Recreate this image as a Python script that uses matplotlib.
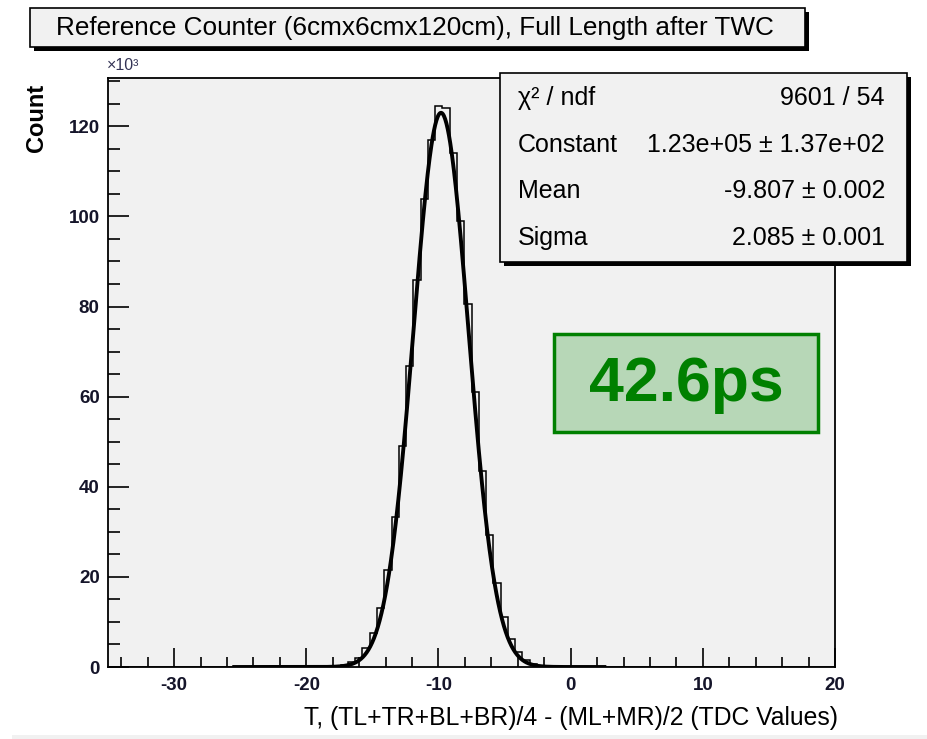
import numpy as np
import matplotlib
matplotlib.use("Agg")
import matplotlib.pyplot as plt
from matplotlib.patches import Rectangle
from matplotlib.ticker import MultipleLocator

plt.rcParams["axes.unicode_minus"] = False

# Histogram binning (100 bins over the TDC window)
bin_lo, bin_hi, n_bins = -35.0, 20.0, 100

# Bin contents (x10^3 counts) for the populated bins, starting at bin index 28
first_bin = 28
counts_k = [0.02, 0.04, 0.08, 0.2, 0.45, 1.0, 2.1, 4.2, 7.5, 13.2,
            21.6, 33.4, 49.0, 66.8, 85.8, 103.9, 117.0, 124.5, 124.1, 114.0,
            99.0, 80.5, 61.0, 43.5, 29.3, 18.6, 11.2, 6.3, 3.3, 1.6,
            0.7, 0.32, 0.15, 0.07, 0.03]

# Gaussian fit results
fit_const = 1.23e5
fit_mean = -9.807
fit_sigma = 2.085
fit_range = (-25.6, 2.7)

stat_labels = ["χ² / ndf", "Constant", "Mean", "Sigma"]
stat_values = ["9601 / 54", "1.23e+05 ± 1.37e+02",
               "-9.807 ± 0.002", "2.085 ± 0.001"]

title = "Reference Counter (6cmx6cmx120cm), Full Length after TWC"
xlabel = "T, (TL+TR+BL+BR)/4 - (ML+MR)/2 (TDC Values)"
ylabel = "Count"
resolution = "42.6ps"

W, H = 927, 739
BG = "#f1f1f1"
SANS = ["Liberation Sans", "DejaVu Sans"]


def fx(x):
    return x / W


def fy(y):
    return 1.0 - y / H


fig = plt.figure(figsize=(W / 100, H / 100), dpi=100, facecolor="white")
# grey canvas with a thin white margin on the left and bottom
fig.add_artist(Rectangle((fx(12), 0.0), 1.0, fy(735), transform=fig.transFigure,
                         facecolor=BG, edgecolor="none", zorder=0))

ax = fig.add_axes([fx(108), fy(667), fx(835) - fx(108), fy(78) - fy(667)])
ax.set_facecolor(BG)

edges = np.linspace(bin_lo, bin_hi, n_bins + 1)
counts = np.zeros(n_bins)
counts[first_bin:first_bin + len(counts_k)] = counts_k
ax.stairs(counts, edges, color="black", lw=1.1, baseline=0)

xf = np.linspace(fit_range[0], fit_range[1], 600)
yf = fit_const * np.exp(-0.5 * ((xf - fit_mean) / fit_sigma) ** 2) / 1e3
ax.plot(xf, yf, color="black", lw=2.8, solid_capstyle="butt")

ax.set_xlim(bin_lo, bin_hi)
ax.set_ylim(0, 1.05 * max(counts_k))

for s in ax.spines.values():
    s.set_linewidth(1.3)

ax.xaxis.set_major_locator(MultipleLocator(10))
ax.xaxis.set_minor_locator(MultipleLocator(2))
ax.yaxis.set_major_locator(MultipleLocator(20))
ax.yaxis.set_minor_locator(MultipleLocator(5))
ax.tick_params(axis="x", which="major", direction="in", length=13.5, width=1.2, pad=7)
ax.tick_params(axis="x", which="minor", direction="in", length=7, width=1.2)
ax.tick_params(axis="y", which="major", direction="in", length=15, width=1.2, pad=6)
ax.tick_params(axis="y", which="minor", direction="in", length=8.5, width=1.2)
for lab in ax.get_xticklabels() + ax.get_yticklabels():
    lab.set_fontfamily(SANS)
    lab.set_fontweight("bold")
    lab.set_fontsize(13.5)
    lab.set_color("#15152a")

fig.text(fx(107), fy(73), "×10³", fontsize=11.5, color="#333355",
         ha="left", va="bottom", family=SANS)

fig.text(fx(36), fy(118), ylabel, rotation=90, fontsize=17, fontweight="bold",
         family=SANS, ha="center", va="center")
fig.text(fx(838), fy(718), xlabel, fontsize=17.8, family=SANS,
         ha="right", va="center")

# title box with drop shadow
fig.add_artist(Rectangle((fx(34), fy(51)), fx(805) - fx(30), fy(8) - fy(47),
                         transform=fig.transFigure, facecolor="black",
                         edgecolor="none", zorder=4))
fig.add_artist(Rectangle((fx(30), fy(47)), fx(805) - fx(30), fy(8) - fy(47),
                         transform=fig.transFigure, facecolor=BG,
                         edgecolor="black", lw=1.2, zorder=5))
fig.text(fx(415), fy(28), title, fontsize=18.8, family=SANS,
         ha="center", va="center", zorder=6)

# fit statistics box with drop shadow
fig.add_artist(Rectangle((fx(504), fy(266)), fx(907) - fx(500), fy(73) - fy(262),
                         transform=fig.transFigure, facecolor="black",
                         edgecolor="none", zorder=4))
fig.add_artist(Rectangle((fx(500), fy(262)), fx(907) - fx(500), fy(73) - fy(262),
                         transform=fig.transFigure, facecolor=BG,
                         edgecolor="black", lw=1.2, zorder=5))
row_y = [98, 145, 191, 238]
for lbl, val, yy in zip(stat_labels, stat_values, row_y):
    fig.text(fx(518), fy(yy), lbl, fontsize=18, family=SANS,
             ha="left", va="center", zorder=6)
    fig.text(fx(885), fy(yy), val, fontsize=18, family=SANS,
             ha="right", va="center", zorder=6)

# resolution annotation
fig.add_artist(Rectangle((fx(554), fy(432)), fx(818) - fx(554), fy(334) - fy(432),
                         transform=fig.transFigure, facecolor="#b7d7b7",
                         edgecolor="#008000", lw=2.5, zorder=5))
fig.text(fx(686), fy(384), resolution, fontsize=45, fontweight="bold",
         color="#008000", family=SANS, ha="center", va="center", zorder=6)

fig.savefig("out.png", dpi=100, facecolor=fig.get_facecolor())
